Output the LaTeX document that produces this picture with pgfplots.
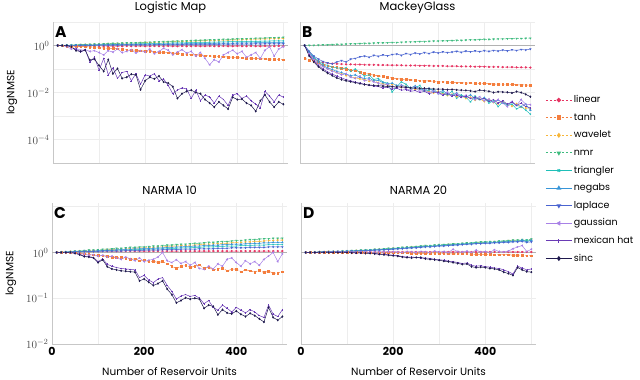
\documentclass[border=0pt]{standalone}
\usepackage{fontspec}
\setmainfont{Poppins}
\usepackage{pgfplots}
\usepackage{pgfplotstable}
\pgfplotsset{compat=1.18}

\definecolor{cLin}{HTML}{E63462}
\definecolor{cTanh}{HTML}{F47E3E}
\definecolor{cWav}{HTML}{F7B538}
\definecolor{cNmr}{HTML}{3DBB7E}
\definecolor{cTri}{HTML}{1FBFB8}
\definecolor{cNeg}{HTML}{3795D8}
\definecolor{cLap}{HTML}{4A64D0}
\definecolor{cGau}{HTML}{A881E6}
\definecolor{cMex}{HTML}{6A3BB5}
\definecolor{cSinc}{HTML}{1F1A4E}

% values are log10(NMSE)
\pgfplotstableread{
x lin tanh wav nmr tri neg lap gau mex sinc
10  0.00  0.00 0.00 0.00 0.00 0.00 0.00  0.00  0.00  0.00
20 -0.01 -0.01 0.01 0.01 0.00 0.00 0.00  0.00  0.00  0.00
30 -0.02 -0.02 0.01 0.01 0.01 0.01 0.00 -0.05  0.00  0.00
40 -0.02 -0.03 0.02 0.02 0.01 0.01 0.00 -0.15 -0.08 -0.05
50 -0.03 -0.04 0.02 0.03 0.02 0.01 0.01 -0.12 -0.15 -0.22
60 -0.03 -0.05 0.03 0.04 0.02 0.01 0.01 -0.20 -0.28 -0.25
70 -0.02 -0.05 0.04 0.04 0.03 0.02 0.01 -0.18 -0.18 -0.20
80 -0.03 -0.07 0.04 0.05 0.03 0.02 0.01 -0.25 -0.70 -0.62
90 -0.03 -0.08 0.05 0.06 0.03 0.02 0.01 -0.22 -0.50 -0.58
100 -0.02 -0.09 0.05 0.06 0.04 0.02 0.02 -0.30 -1.05 -0.85
110 -0.03 -0.11 0.06 0.07 0.04 0.03 0.01 -0.40 -0.55 -1.10
120 -0.03 -0.12 0.07 0.08 0.05 0.03 0.02 -0.22 -1.25 -0.60
130 -0.02 -0.13 0.07 0.09 0.05 0.03 0.02 -0.28 -0.95 -1.20
140 -0.03 -0.14 0.08 0.09 0.05 0.04 0.02 -0.15 -1.40 -0.98
150 -0.03 -0.16 0.09 0.10 0.06 0.04 0.02 -0.30 -1.15 -1.40
160 -0.02 -0.18 0.09 0.11 0.06 0.04 0.03 -0.25 -1.10 -1.35
170 -0.03 -0.19 0.10 0.11 0.07 0.04 0.02 -0.18 -1.50 -1.22
180 -0.03 -0.20 0.10 0.12 0.07 0.05 0.03 -0.32 -1.20 -1.25
190 -0.02 -0.22 0.11 0.13 0.08 0.05 0.03 -0.22 -1.65 -1.88
200 -0.03 -0.24 0.12 0.14 0.08 0.05 0.03 -0.28 -1.25 -1.50
210 -0.03 -0.25 0.12 0.14 0.08 0.06 0.03 -0.15 -1.30 -1.35
220 -0.02 -0.26 0.13 0.15 0.09 0.06 0.03 -0.35 -1.20 -1.42
230 -0.03 -0.28 0.14 0.16 0.09 0.06 0.04 -0.25 -1.50 -1.30
240 -0.03 -0.30 0.14 0.17 0.10 0.06 0.03 -0.12 -1.42 -1.55
250 -0.02 -0.31 0.15 0.17 0.10 0.07 0.04 -0.20 -1.70 -1.60
260 -0.03 -0.32 0.16 0.18 0.11 0.07 0.04 -0.40 -2.05 -1.75
270 -0.03 -0.34 0.16 0.19 0.11 0.07 0.04 -0.28 -1.90 -2.25
280 -0.02 -0.36 0.17 0.19 0.11 0.07 0.04 -0.18 -1.80 -2.05
290 -0.03 -0.37 0.18 0.20 0.12 0.08 0.05 -0.32 -1.85 -1.95
300 -0.03 -0.39 0.18 0.21 0.12 0.08 0.04 -0.25 -2.25 -1.90
310 -0.02 -0.40 0.19 0.22 0.13 0.08 0.05 -0.45 -1.90 -2.00
320 -0.03 -0.41 0.20 0.22 0.13 0.08 0.05 -0.30 -2.35 -2.05
330 -0.03 -0.43 0.20 0.23 0.13 0.09 0.05 -0.55 -2.10 -2.30
340 -0.02 -0.44 0.21 0.24 0.14 0.09 0.05 -0.82 -2.20 -2.45
350 -0.03 -0.46 0.21 0.24 0.14 0.09 0.05 -0.60 -2.45 -2.62
360 -0.03 -0.46 0.22 0.25 0.15 0.10 0.05 -0.70 -2.15 -2.40
370 -0.02 -0.48 0.23 0.26 0.15 0.10 0.06 -0.40 -2.30 -2.55
380 -0.03 -0.49 0.23 0.26 0.16 0.10 0.05 -0.30 -2.55 -2.70
390 -0.03 -0.50 0.24 0.27 0.16 0.10 0.06 -0.20 -2.10 -2.20
400 -0.02 -0.51 0.24 0.28 0.16 0.11 0.06 -0.35 -2.05 -2.30
410 -0.03 -0.52 0.25 0.28 0.17 0.11 0.06 -0.25 -2.25 -2.28
420 -0.03 -0.53 0.26 0.29 0.17 0.11 0.06 -0.50 -2.15 -2.45
430 -0.02 -0.54 0.26 0.30 0.18 0.11 0.06 -0.40 -2.35 -2.55
440 -0.03 -0.55 0.27 0.31 0.18 0.12 0.07 -0.30 -2.50 -2.80
450 -0.03 -0.56 0.28 0.31 0.18 0.12 0.06 -0.55 -2.65 -2.35
460 -0.02 -0.57 0.28 0.32 0.19 0.12 0.07 -0.20 -1.95 -2.10
470 -0.03 -0.58 0.29 0.33 0.19 0.12 0.07 -0.05 -2.15 -2.40
480 -0.03 -0.58 0.29 0.33 0.20 0.13 0.07 -0.45 -2.40 -2.62
490 -0.02 -0.59 0.30 0.34 0.20 0.13 0.07 -0.15 -2.10 -2.40
500 -0.03 -0.61 0.30 0.35 0.20 0.13 0.07 -0.05 -2.20 -2.50
}\tabA

\pgfplotstableread{
x lin tanh wav nmr tri neg lap gau mex sinc
10 0.00 -0.54 0.00 0.00 0.00 0.00 0.00 0.00 0.00 0.00
20 -0.35 -0.62 -0.32 0.01 -0.25 -0.30 -0.25 -0.35 -0.40 -0.45
30 -0.55 -0.68 -0.58 0.01 -0.50 -0.55 -0.45 -0.60 -0.65 -0.70
40 -0.66 -0.74 -0.75 0.02 -0.65 -0.72 -0.58 -0.80 -0.85 -0.90
50 -0.72 -0.82 -0.88 0.03 -0.78 -0.85 -0.68 -0.90 -1.00 -1.05
60 -0.75 -0.86 -0.98 0.03 -0.85 -0.95 -0.74 -1.00 -1.12 -1.18
70 -0.77 -0.90 -1.08 0.04 -0.92 -1.02 -0.78 -1.10 -1.22 -1.28
80 -0.78 -0.93 -1.15 0.05 -0.95 -1.10 -0.70 -1.15 -1.30 -1.38
90 -0.79 -0.96 -1.20 0.05 -0.98 -1.15 -0.64 -1.25 -1.38 -1.45
100 -0.80 -1.00 -1.28 0.06 -0.95 -1.22 -0.70 -1.20 -1.45 -1.50
110 -0.80 -1.04 -1.32 0.07 -1.10 -1.28 -0.58 -1.35 -1.50 -1.54
120 -0.81 -1.08 -1.38 0.07 -1.00 -1.25 -0.55 -1.40 -1.56 -1.58
130 -0.81 -1.14 -1.42 0.08 -1.15 -1.35 -0.48 -1.30 -1.60 -1.62
140 -0.82 -1.18 -1.45 0.09 -1.30 -1.40 -0.45 -1.50 -1.65 -1.66
150 -0.82 -1.22 -1.52 0.09 -1.25 -1.38 -0.50 -1.45 -1.70 -1.68
160 -0.82 -1.26 -1.50 0.10 -1.45 -1.50 -0.42 -1.55 -1.72 -1.70
170 -0.83 -1.29 -1.58 0.11 -1.40 -1.48 -0.46 -1.60 -1.75 -1.71
180 -0.83 -1.32 -1.62 0.11 -1.55 -1.58 -0.40 -1.70 -1.80 -1.73
190 -0.83 -1.36 -1.70 0.12 -1.60 -1.62 -0.44 -1.65 -1.78 -1.74
200 -0.84 -1.38 -1.66 0.13 -1.98 -1.60 -0.38 -1.75 -1.85 -1.75
210 -0.84 -1.41 -1.72 0.13 -1.75 -1.70 -0.36 -1.80 -1.82 -1.76
220 -0.84 -1.43 -1.78 0.14 -1.55 -1.68 -0.42 -1.70 -1.90 -1.77
230 -0.85 -1.45 -1.74 0.15 -1.65 -1.75 -0.34 -1.85 -1.88 -1.78
240 -0.85 -1.46 -1.82 0.15 -1.85 -1.80 -0.38 -1.90 -1.95 -1.80
250 -0.85 -1.48 -1.88 0.16 -1.80 -1.72 -0.32 -1.78 -1.92 -1.81
260 -0.86 -1.50 -1.84 0.17 -1.70 -1.85 -0.36 -1.95 -2.00 -1.82
270 -0.86 -1.51 -1.92 0.17 -1.95 -1.90 -0.30 -1.88 -1.95 -1.82
280 -0.86 -1.50 -1.96 0.18 -1.90 -1.82 -0.34 -2.00 -2.05 -1.84
290 -0.87 -1.53 -2.02 0.19 -1.85 -1.95 -0.28 -1.92 -2.00 -1.85
300 -0.87 -1.55 -1.95 0.19 -2.05 -2.00 -0.32 -2.05 -1.98 -1.86
310 -0.87 -1.54 -2.05 0.20 -2.00 -1.92 -0.27 -2.10 -2.10 -1.86
320 -0.88 -1.56 -2.12 0.20 -2.10 -2.05 -0.30 -1.98 -2.05 -1.88
330 -0.88 -1.57 -2.08 0.21 -1.95 -2.10 -0.28 -2.15 -2.15 -1.87
340 -0.88 -1.58 -2.18 0.22 -2.25 -2.02 -0.25 -2.05 -2.10 -1.89
350 -0.89 -1.58 -2.15 0.22 -2.10 -2.15 -0.29 -2.20 -2.20 -1.90
360 -0.89 -1.60 -2.25 0.23 -2.20 -2.20 -0.24 -2.12 -2.15 -1.91
370 -0.89 -1.59 -2.20 0.24 -2.40 -2.10 -0.27 -2.25 -2.25 -1.93
380 -0.90 -1.61 -2.32 0.24 -2.15 -2.25 -0.23 -2.30 -2.20 -1.96
390 -0.90 -1.62 -2.28 0.25 -2.30 -2.30 -0.26 -2.18 -2.30 -1.90
400 -0.90 -1.62 -2.38 0.26 -2.25 -2.22 -0.22 -2.35 -2.25 -1.92
410 -0.91 -1.63 -2.30 0.26 -2.45 -2.35 -0.25 -2.28 -2.38 -1.95
420 -0.91 -1.64 -2.42 0.27 -2.35 -2.40 -0.21 -2.40 -2.30 -2.00
430 -0.91 -1.64 -2.48 0.28 -2.60 -2.32 -0.24 -2.30 -2.45 -1.97
440 -0.92 -1.65 -2.40 0.28 -2.40 -2.45 -0.19 -2.45 -2.35 -1.98
450 -0.92 -1.66 -2.52 0.29 -2.55 -2.50 -0.23 -2.60 -2.50 -1.99
460 -0.92 -1.66 -2.58 0.29 -2.50 -2.42 -0.18 -2.38 -2.40 -2.02
470 -0.93 -1.67 -2.48 0.30 -2.70 -2.55 -0.21 -2.55 -2.55 -1.96
480 -0.93 -1.68 -2.62 0.30 -2.60 -2.60 -0.17 -2.30 -2.45 -2.00
490 -0.93 -1.68 -2.66 0.31 -2.75 -2.50 -0.19 -2.50 -2.60 -2.08
500 -0.94 -1.69 -2.70 0.31 -2.92 -2.75 -0.15 -2.52 -2.65 -2.18
}\tabB

\pgfplotstableread{
x lin tanh wav nmr tri neg lap gau mex sinc
10 0.00 0.00 0.00 0.00 0.00 0.00 0.00 0.00 0.00 0.00
20 0.00 0.00 0.01 0.01 0.00 0.00 0.00 0.00 0.00 0.00
30 0.01 0.00 0.01 0.01 0.01 0.01 0.00 0.00 0.00 0.00
40 0.01 -0.01 0.02 0.02 0.01 0.01 0.01 -0.01 0.00 0.00
50 0.01 -0.01 0.02 0.03 0.01 0.02 0.01 -0.02 -0.01 -0.02
60 0.02 -0.02 0.03 0.03 0.02 0.02 0.01 -0.04 -0.04 -0.05
70 0.02 -0.03 0.03 0.04 0.02 0.03 0.02 -0.03 -0.08 -0.09
80 0.02 -0.04 0.04 0.05 0.02 0.03 0.02 -0.06 -0.09 -0.10
90 0.03 -0.05 0.04 0.05 0.03 0.03 0.02 -0.05 -0.11 -0.12
100 0.03 -0.06 0.05 0.06 0.03 0.04 0.02 -0.08 -0.20 -0.22
110 0.03 -0.07 0.05 0.07 0.04 0.04 0.03 -0.06 -0.14 -0.16
120 0.03 -0.08 0.06 0.07 0.04 0.05 0.03 -0.10 -0.26 -0.31
130 0.03 -0.10 0.06 0.08 0.04 0.05 0.03 -0.08 -0.30 -0.36
140 0.03 -0.11 0.07 0.09 0.05 0.06 0.03 -0.12 -0.33 -0.38
150 0.03 -0.10 0.07 0.09 0.05 0.06 0.03 -0.15 -0.35 -0.40
160 0.03 -0.12 0.08 0.10 0.05 0.07 0.04 -0.10 -0.36 -0.41
170 0.03 -0.15 0.09 0.11 0.06 0.07 0.04 -0.14 -0.37 -0.42
180 0.03 -0.14 0.09 0.11 0.06 0.08 0.04 -0.18 -0.38 -0.43
190 0.03 -0.18 0.10 0.12 0.06 0.08 0.04 -0.12 -0.55 -0.62
200 0.03 -0.16 0.10 0.12 0.07 0.09 0.05 -0.20 -0.50 -0.58
210 0.03 -0.20 0.11 0.13 0.07 0.09 0.05 -0.17 -0.60 -0.65
220 0.03 -0.19 0.11 0.14 0.07 0.09 0.05 -0.15 -0.66 -0.72
230 0.03 -0.22 0.12 0.14 0.08 0.10 0.05 -0.10 -0.58 -0.68
240 0.03 -0.20 0.12 0.15 0.08 0.10 0.06 0.00 -0.55 -0.62
250 0.03 -0.25 0.13 0.16 0.08 0.11 0.06 -0.18 -0.72 -0.80
260 0.03 -0.30 0.14 0.16 0.09 0.11 0.06 -0.22 -0.85 -0.92
270 0.03 -0.35 0.14 0.17 0.09 0.12 0.06 -0.16 -1.02 -1.10
280 0.03 -0.30 0.15 0.18 0.10 0.12 0.07 -0.24 -0.95 -1.05
290 0.03 -0.28 0.15 0.18 0.10 0.13 0.07 -0.20 -0.92 -0.99
300 0.03 -0.33 0.16 0.19 0.10 0.13 0.07 -0.28 -0.96 -1.02
310 0.03 -0.30 0.16 0.20 0.11 0.14 0.07 -0.22 -0.94 -1.00
320 0.03 -0.27 0.17 0.20 0.11 0.14 0.08 -0.35 -1.00 -1.02
330 0.03 -0.35 0.18 0.21 0.12 0.15 0.08 -0.37 -1.12 -1.22
340 0.03 -0.32 0.18 0.22 0.12 0.15 0.08 -0.30 -1.05 -1.15
350 0.03 -0.38 0.19 0.22 0.12 0.16 0.08 -0.36 -1.20 -1.18
360 0.03 -0.36 0.19 0.23 0.13 0.16 0.09 -0.25 -1.26 -1.36
370 0.03 -0.34 0.20 0.24 0.13 0.17 0.09 -0.30 -1.15 -1.25
380 0.03 -0.40 0.20 0.24 0.14 0.17 0.09 -0.15 -1.22 -1.32
390 0.03 -0.37 0.21 0.25 0.14 0.18 0.10 -0.12 -1.30 -1.34
400 0.03 -0.36 0.22 0.26 0.14 0.18 0.10 -0.22 -1.20 -1.28
410 0.03 -0.42 0.22 0.26 0.15 0.18 0.10 -0.30 -1.26 -1.35
420 0.03 -0.38 0.23 0.27 0.15 0.19 0.10 -0.18 -1.32 -1.40
430 0.03 -0.40 0.23 0.28 0.15 0.19 0.11 -0.25 -1.25 -1.33
440 0.03 -0.43 0.24 0.28 0.16 0.20 0.11 -0.20 -1.30 -1.38
450 0.03 -0.39 0.24 0.29 0.16 0.20 0.11 -0.28 -1.38 -1.45
460 0.03 -0.44 0.25 0.30 0.16 0.21 0.11 -0.15 -1.42 -1.52
470 0.03 -0.41 0.26 0.30 0.17 0.21 0.12 -0.08 -1.15 -1.20
480 0.03 -0.45 0.26 0.31 0.17 0.22 0.12 0.00 -1.35 -1.42
490 0.03 -0.45 0.27 0.31 0.17 0.22 0.12 -0.20 -1.40 -1.48
500 0.03 -0.42 0.27 0.31 0.17 0.22 0.12 -0.03 -1.25 -1.40
}\tabC

\pgfplotstableread{
x lin tanh wav nmr tri neg lap gau mex sinc
10 0.00 0.00 0.00 0.00 0.00 0.00 0.00 0.00 0.00 0.00
20 0.00 0.00 0.00 0.00 0.00 0.00 0.00 0.00 0.00 0.00
30 0.00 0.00 0.01 0.01 0.00 0.00 0.00 0.00 0.00 0.00
40 0.01 0.00 0.01 0.01 0.01 0.01 0.01 0.00 0.00 0.00
50 0.01 0.00 0.01 0.01 0.01 0.01 0.01 0.00 0.00 0.00
60 0.01 0.00 0.02 0.02 0.01 0.01 0.01 0.01 0.00 0.00
70 0.01 0.00 0.02 0.02 0.02 0.02 0.01 0.01 0.00 0.00
80 0.01 0.00 0.02 0.02 0.02 0.02 0.02 0.01 0.00 0.00
90 0.01 0.00 0.03 0.03 0.02 0.02 0.02 0.01 0.00 0.00
100 0.01 0.00 0.03 0.03 0.03 0.03 0.02 0.01 0.00 0.00
110 0.01 0.00 0.03 0.04 0.03 0.03 0.03 0.01 0.00 -0.01
120 0.01 0.00 0.04 0.04 0.04 0.03 0.03 0.01 -0.01 -0.01
130 0.01 0.00 0.04 0.05 0.04 0.04 0.03 0.01 -0.01 -0.01
140 0.01 -0.01 0.05 0.05 0.05 0.04 0.04 0.01 -0.01 -0.02
150 0.01 -0.01 0.05 0.06 0.05 0.05 0.04 0.00 -0.01 -0.02
160 0.01 -0.01 0.06 0.07 0.06 0.05 0.05 0.01 -0.02 -0.03
170 0.01 -0.01 0.07 0.07 0.06 0.06 0.05 0.01 -0.03 -0.04
180 0.01 -0.01 0.07 0.08 0.07 0.06 0.06 0.01 -0.04 -0.05
190 0.01 -0.01 0.08 0.09 0.08 0.07 0.06 0.01 -0.05 -0.06
200 0.01 -0.01 0.09 0.09 0.08 0.08 0.07 0.01 -0.06 -0.07
210 0.01 -0.01 0.09 0.10 0.09 0.08 0.08 0.01 -0.07 -0.08
220 0.01 -0.01 0.10 0.11 0.10 0.09 0.08 0.00 -0.09 -0.10
230 0.01 -0.01 0.11 0.12 0.10 0.10 0.09 0.02 -0.10 -0.11
240 0.01 -0.02 0.12 0.12 0.11 0.10 0.10 0.01 -0.10 -0.12
250 0.01 -0.02 0.12 0.13 0.12 0.11 0.10 0.00 -0.11 -0.11
260 0.01 -0.02 0.13 0.14 0.13 0.12 0.11 0.02 -0.12 -0.11
270 0.01 -0.02 0.14 0.15 0.13 0.13 0.12 0.01 -0.12 -0.14
280 0.01 -0.02 0.14 0.15 0.14 0.13 0.12 0.00 -0.13 -0.15
290 0.01 -0.02 0.15 0.16 0.15 0.14 0.13 0.03 -0.15 -0.16
300 0.01 -0.02 0.16 0.17 0.15 0.15 0.14 0.01 -0.16 -0.17
310 0.01 -0.03 0.16 0.17 0.16 0.15 0.14 0.02 -0.17 -0.19
320 0.01 -0.03 0.17 0.18 0.17 0.16 0.15 0.00 -0.19 -0.20
330 0.01 -0.03 0.18 0.19 0.17 0.16 0.16 0.07 -0.20 -0.22
340 0.01 -0.03 0.18 0.19 0.18 0.17 0.16 0.02 -0.22 -0.24
350 0.01 -0.03 0.19 0.20 0.19 0.18 0.17 0.01 -0.24 -0.26
360 0.01 -0.03 0.20 0.21 0.19 0.18 0.18 0.03 -0.23 -0.25
370 0.01 -0.04 0.20 0.21 0.20 0.19 0.18 0.00 -0.28 -0.31
380 0.01 -0.04 0.21 0.22 0.21 0.20 0.19 0.05 -0.30 -0.33
390 0.01 -0.04 0.22 0.23 0.21 0.20 0.19 0.01 -0.29 -0.32
400 0.01 -0.04 0.22 0.23 0.22 0.21 0.20 0.02 -0.31 -0.33
410 0.01 -0.04 0.23 0.24 0.23 0.21 0.20 0.00 -0.32 -0.35
420 0.01 -0.05 0.23 0.24 0.22 0.22 0.21 0.06 -0.34 -0.36
430 0.01 -0.05 0.24 0.25 0.24 0.22 0.21 0.02 -0.35 -0.38
440 0.01 -0.05 0.24 0.25 0.23 0.23 0.22 0.01 -0.38 -0.43
450 0.01 -0.05 0.25 0.26 0.25 0.23 0.22 0.03 -0.42 -0.46
460 0.01 -0.06 0.26 0.27 0.24 0.25 0.23 0.08 -0.47 -0.50
470 0.01 -0.06 0.26 0.27 0.26 0.24 0.23 0.12 -0.30 -0.33
480 0.01 -0.06 0.27 0.28 0.25 0.27 0.24 0.15 -0.34 -0.38
490 0.01 -0.07 0.26 0.27 0.27 0.23 0.22 0.02 -0.38 -0.42
500 0.01 -0.07 0.28 0.29 0.26 0.27 0.23 0.07 -0.36 -0.43
}\tabD

\pgfplotsset{
  panel/.style={
    scale only axis, width=235pt, height=141pt, anchor=south west,
    xmin=0, xmax=510,
    axis lines*=left,
    axis line style={-, draw=black!22, line width=0.9pt},
    major tick length=0pt, minor tick length=0pt,
    xtick={0,200,400}, minor xtick={100,300,500},
    grid=both,
    major grid style={draw=black!7, line width=0.5pt},
    minor grid style={draw=black!7, line width=0.5pt},
    yticklabel style={font=\fontsize{11}{11}\selectfont, text=black!70},
    xticklabel style={font=\bfseries\fontsize{11}{11}\selectfont, text=black},
    title style={font=\fontsize{11.5}{13}\selectfont, yshift=-1pt},
    every axis y label/.style={at={(axis description cs:-0.175,0.5)}, rotate=90, anchor=center, font=\fontsize{10.5}{12}\selectfont},
    every axis x label/.style={at={(axis description cs:0.5,0)}, yshift=-28pt, anchor=center, font=\fontsize{10.5}{12}\selectfont},
    every axis plot/.append style={line width=0.5pt, mark size=0.85pt},
  },
  sLin/.style={color=cLin, dash pattern=on 2.5pt off 1.5pt, mark=*, mark options={solid}},
  sTanh/.style={color=cTanh, dash pattern=on 2.5pt off 1.5pt, mark=square*, mark options={solid}},
  sWav/.style={color=cWav, dash pattern=on 2.5pt off 1.5pt, mark=diamond*, mark options={solid}},
  sNmr/.style={color=cNmr, dash pattern=on 2.5pt off 1.5pt, mark=triangle*, mark options={solid, rotate=180}},
  sTri/.style={color=cTri, mark=x},
  sNeg/.style={color=cNeg, mark=triangle*},
  sLap/.style={color=cLap, mark=triangle*, mark options={rotate=180}},
  sGau/.style={color=cGau, mark=triangle*, mark options={rotate=90}},
  sMex/.style={color=cMex, mark=+},
  sSinc/.style={color=cSinc, mark=diamond*},
}

\newcommand{\allseries}[1]{%
  \addplot[black!30, line width=1pt, forget plot] coordinates {(0,0) (510,0)};
  \addplot[sLin] table[x=x, y=lin] {#1};
  \addplot[sTanh] table[x=x, y=tanh] {#1};
  \addplot[sWav] table[x=x, y=wav] {#1};
  \addplot[sNmr] table[x=x, y=nmr] {#1};
  \addplot[sTri] table[x=x, y=tri] {#1};
  \addplot[sNeg] table[x=x, y=neg] {#1};
  \addplot[sLap] table[x=x, y=lap] {#1};
  \addplot[sGau] table[x=x, y=gau] {#1};
  \addplot[sMex] table[x=x, y=mex] {#1};
  \addplot[sSinc] table[x=x, y=sinc] {#1};
}

\newcommand{\letter}[1]{\node[anchor=north west, inner sep=0pt, font=\bfseries\fontsize{15.5}{15.5}\selectfont] at (rel axis cs:0.008,0.97) {#1};}

\begin{document}
\begin{tikzpicture}
\useasboundingbox (0pt,0pt) rectangle (640pt,380pt);

\begin{axis}[panel, at={(53pt,217pt)},
  ymin=-5, ymax=1, ytick={-4,-2,0}, minor ytick={-5,-3,-1,1},
  yticklabels={$10^{-4}$,$10^{-2}$,$10^{0}$}, xticklabels={},
  ylabel={logNMSE}, title={Logistic Map}]
\allseries{\tabA}
\letter{A}
\end{axis}

\begin{axis}[panel, at={(300pt,217pt)},
  ymin=-5, ymax=1, ytick={-4,-2,0}, minor ytick={-5,-3,-1,1},
  yticklabels={}, xticklabels={}, title={MackeyGlass},
  legend style={at={(1.043,0.49)}, anchor=north west, draw=none, fill=none,
    font=\fontsize{9.5}{10}\selectfont, row sep=5.6pt, inner sep=0pt,
    nodes={inner sep=1.5pt, text height=7pt, text depth=2pt}},
  legend cell align=left,
  legend image code/.code={\draw[mark repeat=2, mark phase=2, #1, line width=1.1pt, mark size=1.7pt] plot coordinates {(0pt,0pt) (13pt,0pt) (26pt,0pt)};}]
\allseries{\tabB}
\letter{B}
\legend{linear,tanh,wavelet,nmr,triangler,negabs,laplace,gaussian,mexican hat,sinc}
\end{axis}

\begin{axis}[panel, at={(52pt,36pt)},
  ymin=-2, ymax=1.08, ytick={-2,-1,0}, minor ytick={1},
  yticklabels={$10^{-2}$,$10^{-1}$,$10^{0}$}, xticklabels={0,200,400},
  ylabel={logNMSE}, xlabel={Number of Reservoir Units}, title={NARMA 10}]
\allseries{\tabC}
\letter{C}
\end{axis}

\begin{axis}[panel, at={(301pt,36pt)},
  ymin=-2, ymax=1.08, ytick={-2,-1,0}, minor ytick={1},
  yticklabels={}, xticklabels={0,200,400},
  xlabel={Number of Reservoir Units}, title={NARMA 20}]
\allseries{\tabD}
\letter{D}
\end{axis}
\end{tikzpicture}
\end{document}
